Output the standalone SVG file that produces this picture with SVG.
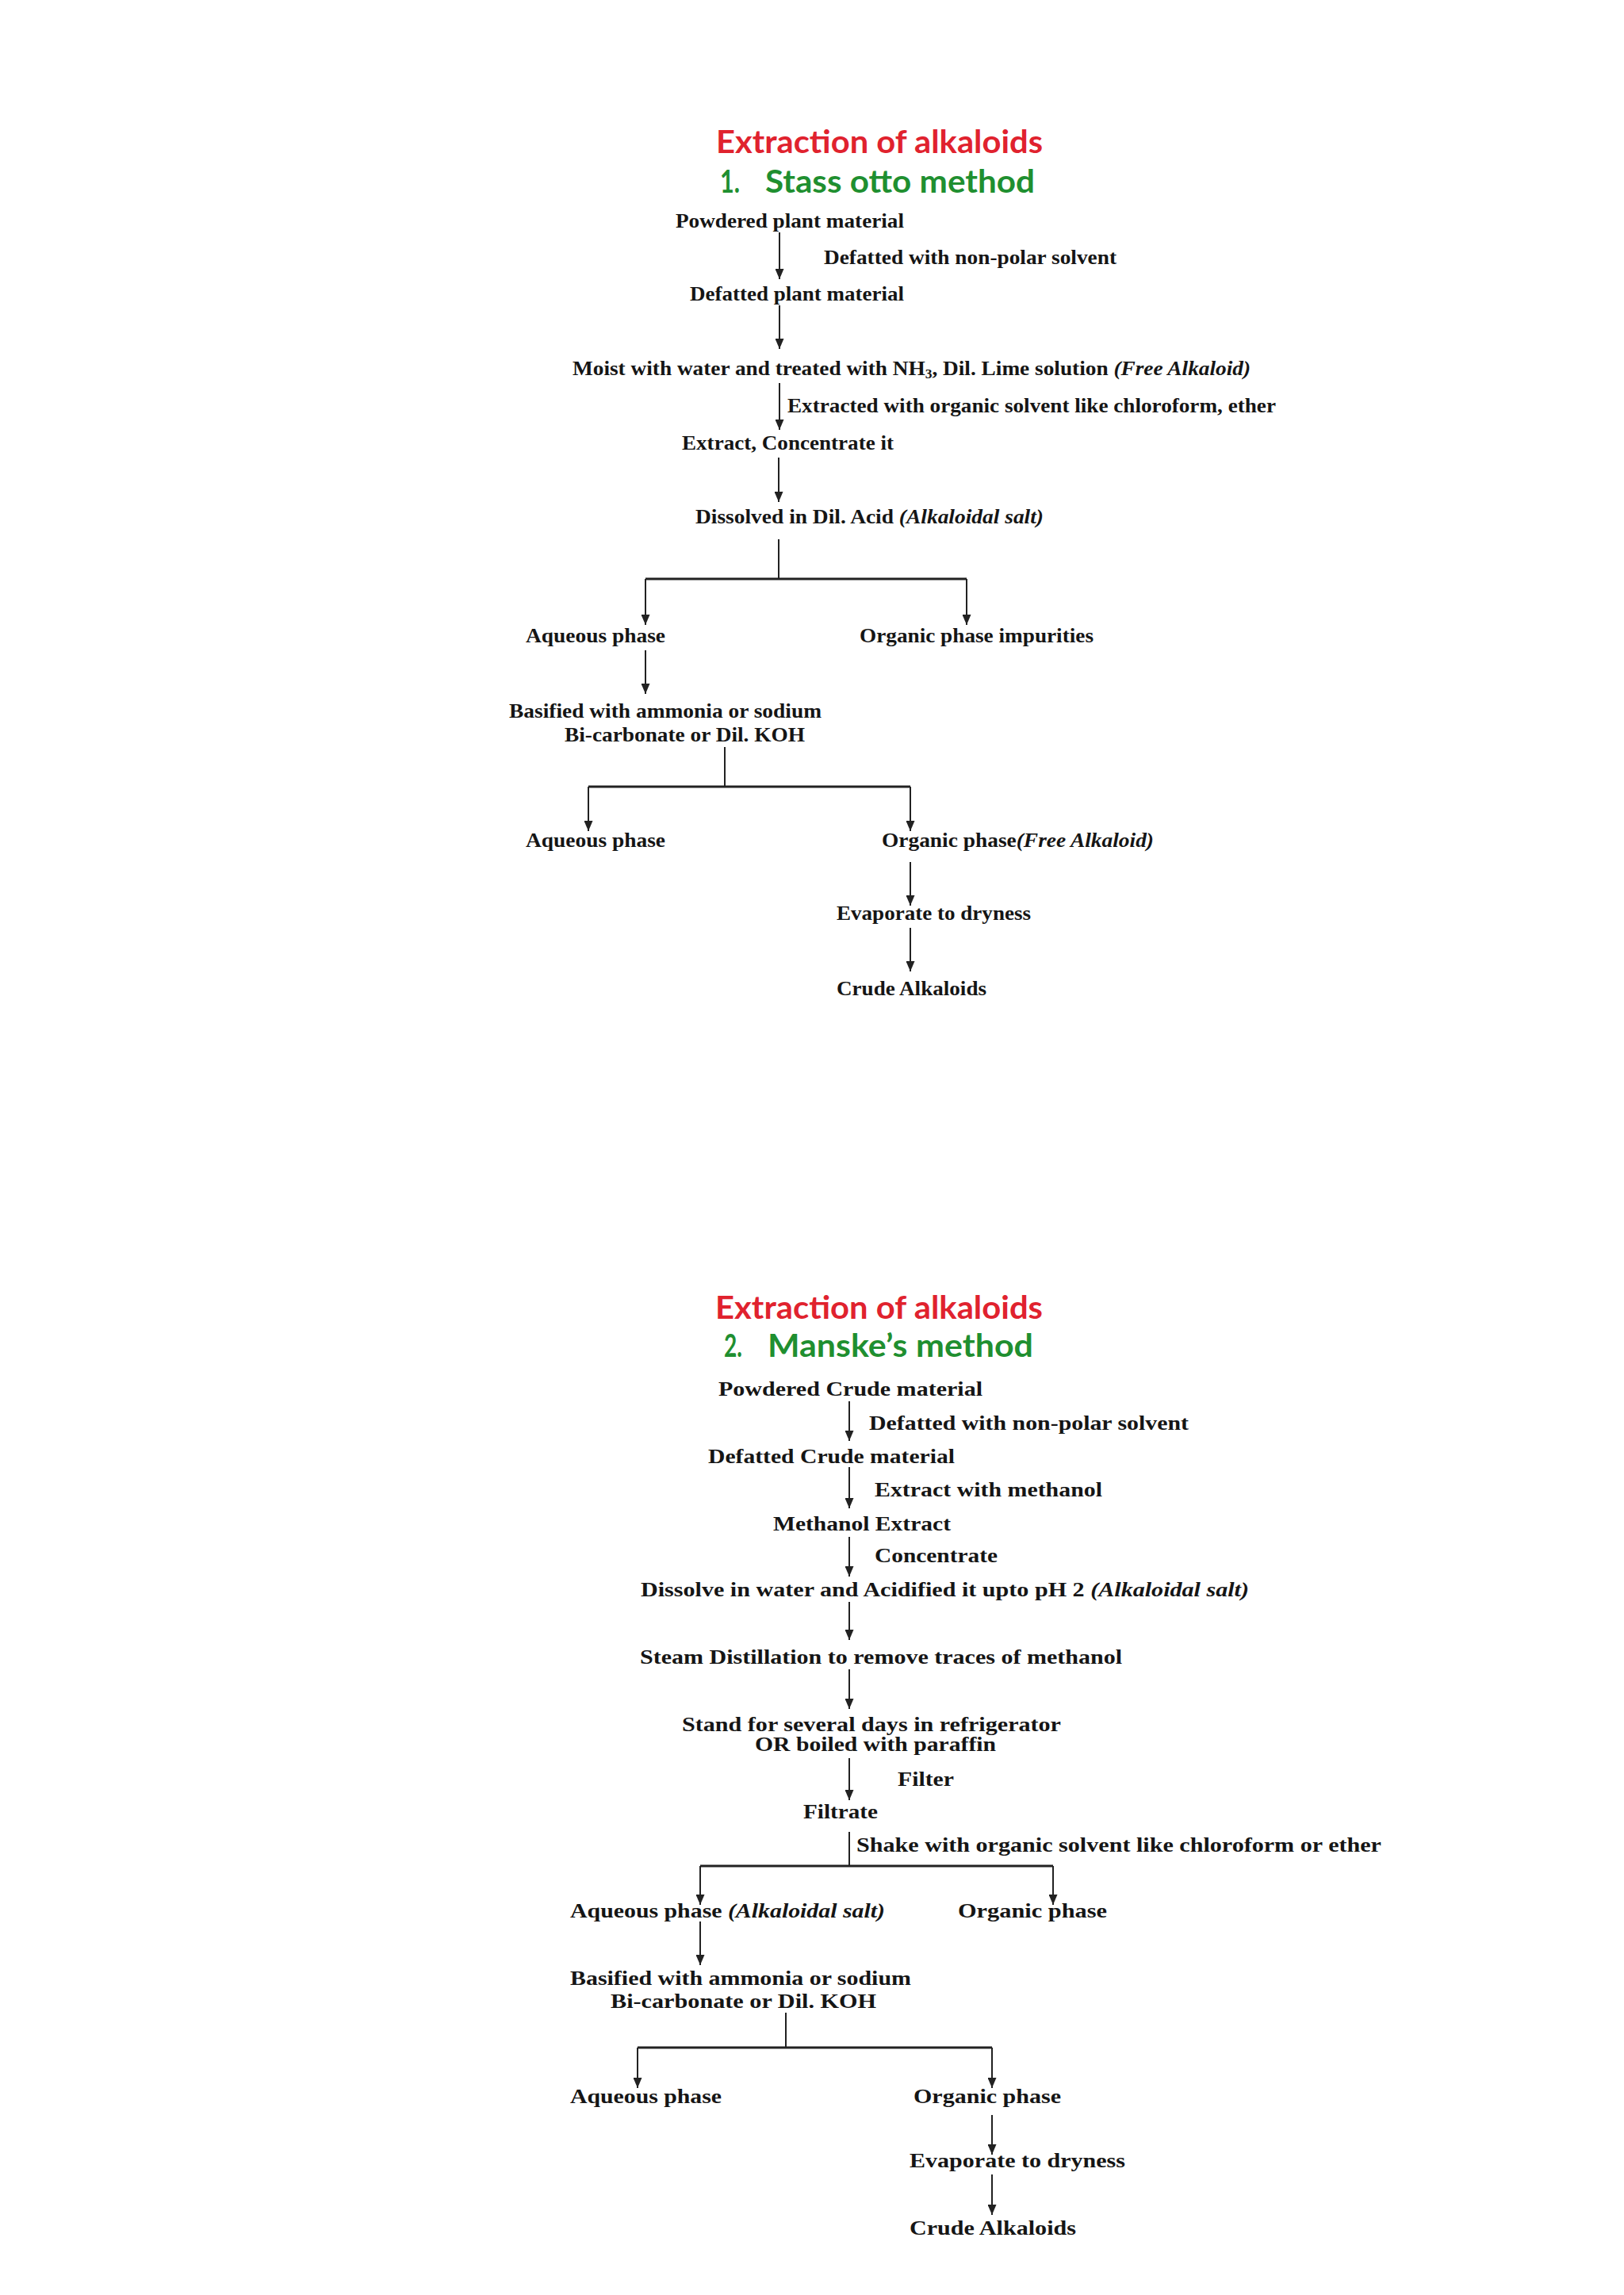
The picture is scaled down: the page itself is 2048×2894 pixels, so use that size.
<svg xmlns="http://www.w3.org/2000/svg" width="2048" height="2894" viewBox="0 0 2048 2894">
<style>
.title{font-family:Lato,"Open Sans","Liberation Sans",sans-serif;font-weight:bold;font-size:40px;fill:#e0222e}
.sub{font-family:Lato,"Open Sans","Liberation Sans",sans-serif;font-weight:bold;font-size:40px;fill:#1f8f30}
.t{font-family:"Liberation Serif","Times New Roman",serif;font-weight:bold;font-size:25px;fill:#151515}
.i{font-style:italic}
.c{stroke:#222;stroke-width:2;fill:none}
.a{stroke:#222;stroke-width:2;fill:none;marker-end:url(#ah)}
.bar{stroke:#222;stroke-width:3;fill:none}
</style>
<defs>
<marker id="ah" viewBox="0 0 13 11" refX="13" refY="5.5" markerWidth="13" markerHeight="11" markerUnits="userSpaceOnUse" orient="auto">
<path d="M0,0 L13,5.5 L0,11 z" fill="#222"/>
</marker>
</defs>
<rect width="2048" height="2894" fill="#ffffff"/>

<!-- Section 1 -->
<g id="title1">
<text class="title" x="903" y="193" textLength="412" lengthAdjust="spacingAndGlyphs">Extraction of alkaloids</text>
<text class="sub" x="908" y="243" textLength="25" lengthAdjust="spacingAndGlyphs">1.</text>
<text class="sub" x="965" y="243" textLength="340" lengthAdjust="spacingAndGlyphs">Stass otto method</text>
</g>
<g id="s1-powdered"><text class="t" x="852" y="287" textLength="288" lengthAdjust="spacingAndGlyphs">Powdered plant material</text></g>
<g id="s1-lbl-defat"><text class="t" x="1039" y="333" textLength="369" lengthAdjust="spacingAndGlyphs">Defatted with non-polar solvent</text></g>
<g id="s1-defatted"><text class="t" x="870" y="379" textLength="270" lengthAdjust="spacingAndGlyphs">Defatted plant material</text></g>
<g id="s1-moist"><text class="t" x="722" y="473" textLength="855" lengthAdjust="spacingAndGlyphs">Moist with water and treated with NH<tspan font-size="16" dy="4">3</tspan><tspan dy="-4">, Dil. Lime solution </tspan><tspan class="i">(Free Alkaloid)</tspan></text></g>
<g id="s1-lbl-extracted"><text class="t" x="993" y="520" textLength="616" lengthAdjust="spacingAndGlyphs">Extracted with organic solvent like chloroform, ether</text></g>
<g id="s1-extract"><text class="t" x="860" y="567" textLength="267" lengthAdjust="spacingAndGlyphs">Extract, Concentrate it</text></g>
<g id="s1-dissolved"><text class="t" x="877" y="660" textLength="439" lengthAdjust="spacingAndGlyphs">Dissolved in Dil. Acid <tspan class="i">(Alkaloidal salt)</tspan></text></g>
<g id="s1-aqueous1"><text class="t" x="663" y="810" textLength="176" lengthAdjust="spacingAndGlyphs">Aqueous phase</text></g>
<g id="s1-organic1"><text class="t" x="1084" y="810" textLength="295" lengthAdjust="spacingAndGlyphs">Organic phase impurities</text></g>
<g id="s1-basified">
<text class="t" x="642" y="905" textLength="394" lengthAdjust="spacingAndGlyphs">Basified with ammonia or sodium</text>
<text class="t" x="712" y="935" textLength="303" lengthAdjust="spacingAndGlyphs">Bi-carbonate or Dil. KOH</text>
</g>
<g id="s1-aqueous2"><text class="t" x="663" y="1068" textLength="176" lengthAdjust="spacingAndGlyphs">Aqueous phase</text></g>
<g id="s1-organic2"><text class="t" x="1112" y="1068" textLength="343" lengthAdjust="spacingAndGlyphs">Organic phase<tspan class="i">(Free Alkaloid)</tspan></text></g>
<g id="s1-evaporate"><text class="t" x="1055" y="1160" textLength="245" lengthAdjust="spacingAndGlyphs">Evaporate to dryness</text></g>
<g id="s1-crude"><text class="t" x="1055" y="1255" textLength="189" lengthAdjust="spacingAndGlyphs">Crude Alkaloids</text></g>

<!-- Section 2 -->
<g id="title2">
<text class="title" x="902" y="1663" textLength="413" lengthAdjust="spacingAndGlyphs">Extraction of alkaloids</text>
<text class="sub" x="913" y="1711" textLength="23" lengthAdjust="spacingAndGlyphs">2.</text>
<text class="sub" x="968" y="1711" textLength="335" lengthAdjust="spacingAndGlyphs">Manske’s method</text>
</g>
<g id="s2-powdered"><text class="t" x="906" y="1760" textLength="333" lengthAdjust="spacingAndGlyphs">Powdered Crude material</text></g>
<g id="s2-lbl-defat"><text class="t" x="1096" y="1803" textLength="403" lengthAdjust="spacingAndGlyphs">Defatted with non-polar solvent</text></g>
<g id="s2-defatted"><text class="t" x="893" y="1845" textLength="311" lengthAdjust="spacingAndGlyphs">Defatted Crude material</text></g>
<g id="s2-lbl-methanol"><text class="t" x="1103" y="1887" textLength="287" lengthAdjust="spacingAndGlyphs">Extract with methanol</text></g>
<g id="s2-methanol"><text class="t" x="975" y="1930" textLength="224" lengthAdjust="spacingAndGlyphs">Methanol Extract</text></g>
<g id="s2-lbl-conc"><text class="t" x="1103" y="1970" textLength="155" lengthAdjust="spacingAndGlyphs">Concentrate</text></g>
<g id="s2-dissolve"><text class="t" x="808" y="2013" textLength="767" lengthAdjust="spacingAndGlyphs">Dissolve in water and Acidified it upto pH 2 <tspan class="i">(Alkaloidal salt)</tspan></text></g>
<g id="s2-steam"><text class="t" x="807" y="2098" textLength="608" lengthAdjust="spacingAndGlyphs">Steam Distillation to remove traces of methanol</text></g>
<g id="s2-stand">
<text class="t" x="860" y="2183" textLength="478" lengthAdjust="spacingAndGlyphs">Stand for several days in refrigerator</text>
<text class="t" x="952" y="2208" textLength="304" lengthAdjust="spacingAndGlyphs">OR boiled with paraffin</text>
</g>
<g id="s2-lbl-filter"><text class="t" x="1132" y="2252" textLength="71" lengthAdjust="spacingAndGlyphs">Filter</text></g>
<g id="s2-filtrate"><text class="t" x="1013" y="2293" textLength="94" lengthAdjust="spacingAndGlyphs">Filtrate</text></g>
<g id="s2-lbl-shake"><text class="t" x="1080" y="2335" textLength="662" lengthAdjust="spacingAndGlyphs">Shake with organic solvent like chloroform or ether</text></g>
<g id="s2-aqueous1"><text class="t" x="719" y="2418" textLength="397" lengthAdjust="spacingAndGlyphs">Aqueous phase <tspan class="i">(Alkaloidal salt)</tspan></text></g>
<g id="s2-organic1"><text class="t" x="1208" y="2418" textLength="188" lengthAdjust="spacingAndGlyphs">Organic phase</text></g>
<g id="s2-basified">
<text class="t" x="719" y="2503" textLength="430" lengthAdjust="spacingAndGlyphs">Basified with ammonia or sodium</text>
<text class="t" x="770" y="2532" textLength="335" lengthAdjust="spacingAndGlyphs">Bi-carbonate or Dil. KOH</text>
</g>
<g id="s2-aqueous2"><text class="t" x="719" y="2652" textLength="191" lengthAdjust="spacingAndGlyphs">Aqueous phase</text></g>
<g id="s2-organic2"><text class="t" x="1152" y="2652" textLength="186" lengthAdjust="spacingAndGlyphs">Organic phase</text></g>
<g id="s2-evaporate"><text class="t" x="1147" y="2733" textLength="272" lengthAdjust="spacingAndGlyphs">Evaporate to dryness</text></g>
<g id="s2-crude"><text class="t" x="1147" y="2818" textLength="210" lengthAdjust="spacingAndGlyphs">Crude Alkaloids</text></g>

<g id="connectors">
<!-- section 1 -->
<line class="a" x1="983" y1="293" x2="983" y2="352"/>
<line class="a" x1="983" y1="385" x2="983" y2="440"/>
<line class="a" x1="983" y1="483" x2="983" y2="542"/>
<line class="a" x1="982" y1="577" x2="982" y2="633"/>
<line class="c" x1="982" y1="680" x2="982" y2="730"/>
<line class="bar" x1="814" y1="730" x2="1219" y2="730"/>
<line class="a" x1="814" y1="730" x2="814" y2="788"/>
<line class="a" x1="1219" y1="730" x2="1219" y2="788"/>
<line class="a" x1="814" y1="820" x2="814" y2="875"/>
<line class="c" x1="914" y1="942" x2="914" y2="992"/>
<line class="bar" x1="742" y1="992" x2="1148" y2="992"/>
<line class="a" x1="742" y1="992" x2="742" y2="1048"/>
<line class="a" x1="1148" y1="992" x2="1148" y2="1048"/>
<line class="a" x1="1148" y1="1087" x2="1148" y2="1142"/>
<line class="a" x1="1148" y1="1170" x2="1148" y2="1225"/>
<!-- section 2 -->
<line class="a" x1="1071" y1="1767" x2="1071" y2="1817"/>
<line class="a" x1="1071" y1="1850" x2="1071" y2="1902"/>
<line class="a" x1="1071" y1="1938" x2="1071" y2="1988"/>
<line class="a" x1="1071" y1="2020" x2="1071" y2="2068"/>
<line class="a" x1="1071" y1="2105" x2="1071" y2="2155"/>
<line class="a" x1="1071" y1="2217" x2="1071" y2="2270"/>
<line class="c" x1="1071" y1="2310" x2="1071" y2="2353"/>
<line class="bar" x1="883" y1="2353" x2="1328" y2="2353"/>
<line class="a" x1="883" y1="2353" x2="883" y2="2402"/>
<line class="a" x1="1328" y1="2353" x2="1328" y2="2402"/>
<line class="a" x1="883" y1="2423" x2="883" y2="2478"/>
<line class="c" x1="991" y1="2538" x2="991" y2="2582"/>
<line class="bar" x1="804" y1="2582" x2="1251" y2="2582"/>
<line class="a" x1="804" y1="2582" x2="804" y2="2633"/>
<line class="a" x1="1251" y1="2582" x2="1251" y2="2633"/>
<line class="a" x1="1251" y1="2667" x2="1251" y2="2717"/>
<line class="a" x1="1251" y1="2742" x2="1251" y2="2793"/>
</g>
</svg>
